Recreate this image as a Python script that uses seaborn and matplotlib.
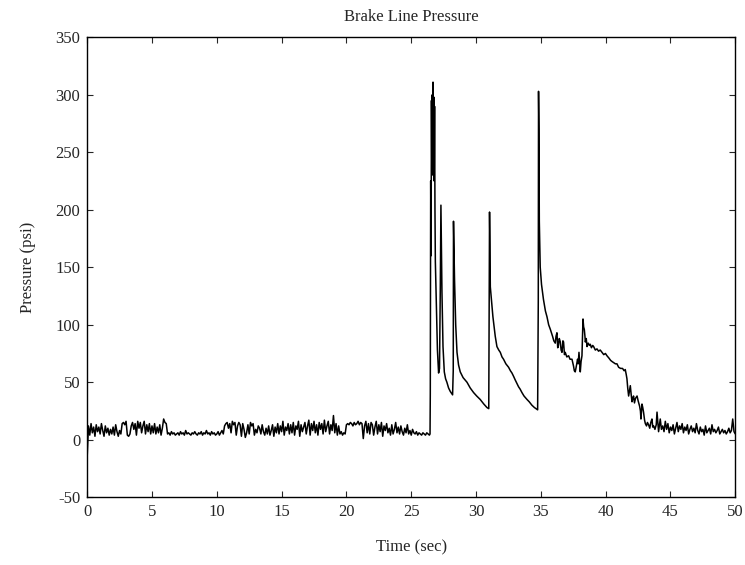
"""Brake line pressure trace (MATLAB-style scan), redrawn with seaborn."""

import numpy as np
import pandas as pd
import seaborn as sns
import matplotlib.pyplot as plt

SAMPLE_STEP = 0.1  # sec, for the quiet stretches

# quiet stretch before braking, 0.0 .. 26.4 s
base_start = 0.0
base_psi = [
    -15, 12, 4, 14, 6, 11, 3, 13, 7, 11,
    5, 14, 8, 3, 12, 6, 10, 4, 9, 5,
    11, 4, 13, 7, 3, 8, 5, 14, 15, 13,
    16, 4, 3, 5, 12, 15, 9, 14, 4, 16,
    10, 15, 6, 12, 16, 5, 13, 7, 14, 5,
    12, 6, 14, 5, 11, 6, 13, 4, 10, 18,
    15, 14, 5, 6, 4, 7, 5, 6, 4, 5,
    6, 4, 7, 5, 6, 4, 8, 5, 6, 5,
    4, 6, 5, 7, 5, 4, 6, 5, 7, 4,
    6, 5, 8, 5, 6, 4, 7, 5, 6, 4,
    5, 7, 4, 6, 8, 5, 12, 14, 15, 10,
    14, 6, 16, 13, 15, 4, 12, 15, 13, 3,
    14, 9, 2, 6, 13, 5, 15, 12, 14, 4,
    9, 6, 12, 10, 5, 13, 7, 4, 10, 5,
    12, 4, 8, 13, 3, 11, 6, 14, 5, 12,
    7, 16, 4, 11, 8, 14, 5, 13, 6, 15,
    4, 12, 9, 16, 3, 13, 7, 11, 15, 5,
    12, 17, 4, 14, 8, 16, 6, 13, 4, 15,
    9, 14, 5, 17, 7, 12, 16, 5, 13, 8,
    21, 6, 14, 4, 12, 5, 7, 4, 6, 5,
    13, 14, 13, 15, 14, 12, 15, 13, 14, 16,
    13, 15, 14, 1, 12, 16, 6, 14, 5, 15,
    13, 4, 11, 16, 5, 13, 7, 15, 3, 12,
    8, 14, 6, 10, 4, 13, 5, 9, 15, 6,
    11, 5, 12, 7, 4, 10, 6, 13, 5, 8,
    4, 9, 6, 5, 7, 4, 6, 5, 4, 6,
    5, 4, 6, 5, 4,
]

# brake applications, read point by point
event_sec = [
    26.45, 26.47, 26.50, 26.53, 26.56, 26.59, 26.62, 26.65, 26.68, 26.71,
    26.74, 26.77, 26.80, 26.83, 26.86, 26.90, 26.95, 27.02, 27.11, 27.18,
    27.24, 27.29, 27.33, 27.37, 27.45, 27.55, 27.65, 27.75, 27.88, 28.01,
    28.19, 28.24, 28.26, 28.29, 28.34, 28.43, 28.53, 28.65, 28.78, 29.00,
    29.30, 29.55, 29.81, 30.05, 30.32, 30.60, 30.84, 30.98, 31.02, 31.04,
    31.07, 31.10, 31.30, 31.48, 31.61, 31.75, 31.87, 32.00, 32.12, 32.30,
    32.51, 32.65, 32.77, 32.90, 33.02, 33.15, 33.28, 33.40, 33.54, 33.70,
    33.93, 34.10, 34.31, 34.50, 34.75, 34.80, 34.82, 34.85, 34.88, 34.95,
    35.05, 35.20, 35.35, 35.47, 35.60, 35.73, 35.90, 36.00, 36.11, 36.17,
    36.24, 36.30, 36.34, 36.42, 36.50, 36.56, 36.63, 36.70, 36.75, 36.82,
    36.88, 37.00, 37.14, 37.25, 37.40, 37.52, 37.58, 37.65, 37.72, 37.83,
    37.88, 37.94, 38.00, 38.04, 38.10, 38.17, 38.22, 38.25, 38.30, 38.35,
    38.40, 38.43, 38.50, 38.56, 38.65, 38.75, 38.81, 38.90, 39.00, 39.07,
    39.20, 39.33, 39.45, 39.58, 39.71, 39.85, 39.98, 40.10, 40.25, 40.38,
    40.49, 40.62, 40.75, 40.87, 41.00, 41.15, 41.30, 41.42, 41.51, 41.58,
    41.64, 41.70, 41.77, 41.84, 41.90, 41.96, 42.03, 42.09, 42.15, 42.22,
    42.30, 42.42, 42.50, 42.62, 42.68, 42.72, 42.77, 42.80, 42.86, 42.92,
    43.00, 43.06, 43.15, 43.22, 43.31, 43.40, 43.48, 43.57, 43.63, 43.70,
    43.80, 43.90, 43.96, 44.02, 44.08, 44.14, 44.21, 44.30,
]
event_psi = [
    5, 40, 225, 160, 295, 230, 300, 240, 311, 270,
    298, 225, 290, 200, 155, 135, 110, 78, 58, 62,
    130, 204, 165, 128, 81, 59, 53, 50, 45, 42,
    39, 60, 190, 172, 139, 100, 76, 65, 59, 54,
    50, 45, 41, 38, 35, 31, 28, 27, 150, 198,
    170, 133, 107, 90, 81, 78, 76, 72, 70, 66,
    63, 60, 58, 55, 52, 49, 46, 44, 41, 38,
    35, 33, 30, 28, 26, 120, 303, 270, 190, 150,
    135, 122, 112, 107, 100, 96, 90, 86, 84, 90,
    93, 80, 81, 88, 85, 78, 76, 86, 85, 74,
    76, 72, 73, 70, 70, 64, 60, 59, 63, 70,
    66, 76, 66, 59, 68, 73, 95, 105, 98, 96,
    90, 85, 88, 81, 84, 82, 83, 80, 82, 81,
    78, 79, 77, 78, 76, 74, 75, 73, 71, 69,
    68, 67, 66, 66, 63, 62, 62, 60, 61, 57,
    53, 45, 38, 43, 47, 40, 33, 36, 38, 32,
    36, 38, 34, 29, 25, 18, 26, 31, 28, 24,
    17, 14, 12, 15, 13, 10, 15, 18, 11, 12,
    9, 13, 24, 15, 7, 12, 18, 9,
]

# quiet stretch after braking, 44.4 .. 50.0 s
tail_start = 44.4
tail_psi = [
    12, 7, 16, 9, 14, 6,
    11, 8, 13, 5, 10, 15, 7, 12, 9, 14,
    6, 11, 8, 13, 5, 9, 12, 7, 10, 6,
    14, 8, 5, 11, 7, 9, 4, 12, 6, 8,
    10, 5, 13, 7, 9, 6, 8, 11, 5, 7,
    9, 6, 8, 5, 7, 10, 6, 8, 18, 7,
    5,
]

x_ticks = list(range(0, 51, 5))
y_ticks = list(range(-50, 351, 50))


def main():
    base_sec = base_start + SAMPLE_STEP * np.arange(len(base_psi))
    tail_sec = tail_start + SAMPLE_STEP * np.arange(len(tail_psi))
    df = pd.DataFrame({
        'time': np.concatenate([base_sec, event_sec, tail_sec]),
        'pressure': np.concatenate([base_psi, event_psi, tail_psi]),
    })

    sns.set_style('ticks')
    plt.rcParams['font.family'] = ['Liberation Serif', 'DejaVu Serif']
    plt.rcParams['axes.unicode_minus'] = False
    plt.rcParams['xtick.direction'] = 'in'
    plt.rcParams['ytick.direction'] = 'in'

    fig = plt.figure(figsize=(7.45, 5.65), dpi=100)
    ax = fig.add_axes([0.117, 0.12, 0.87, 0.814])
    sns.lineplot(data=df, x='time', y='pressure', ax=ax, color='black',
                 linewidth=1.1, estimator=None, sort=False)

    ax.set_xlim(0, 50)
    ax.set_ylim(-50, 350)
    ax.set_xticks(x_ticks)
    ax.set_yticks(y_ticks)
    ax.tick_params(top=True, right=True, labelsize=12, length=4, width=0.8,
                   pad=5)
    for s in ax.spines.values():
        s.set_linewidth(1.0)
        s.set_color('black')
    ax.set_title('Brake Line Pressure', fontsize=12, pad=12)
    ax.set_xlabel('Time (sec)', fontsize=12, labelpad=14)
    ax.set_ylabel('Pressure (psi)', fontsize=12, labelpad=14)

    fig.savefig('out.png', dpi=100)


if __name__ == '__main__':
    main()
